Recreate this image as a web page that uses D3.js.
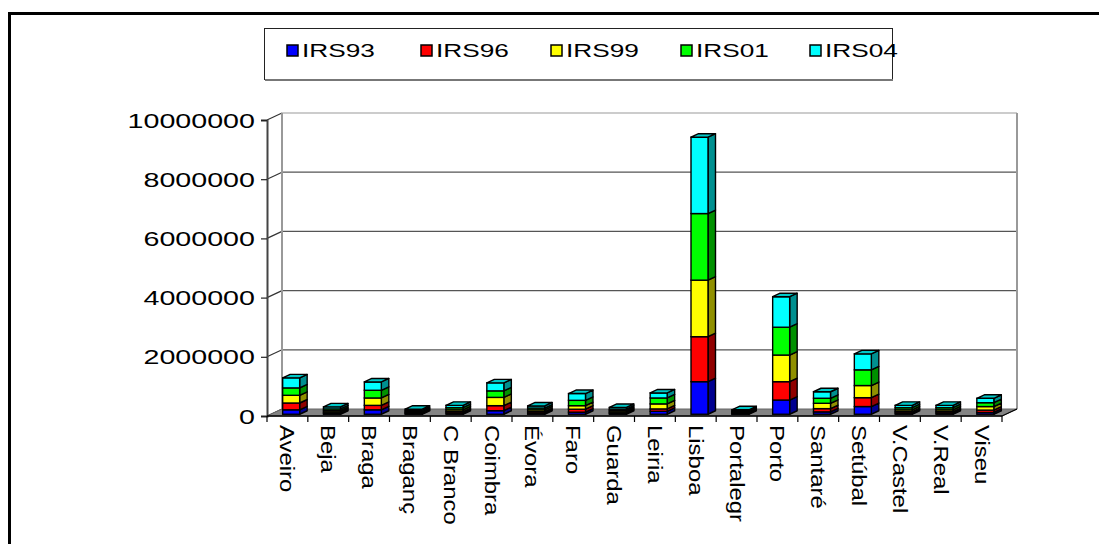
<!DOCTYPE html>
<html>
<head>
<meta charset="utf-8">
<script src="https://cdn.jsdelivr.net/npm/d3@7"></script>
<style>
  html, body { margin: 0; padding: 0; background: #fff; }
  svg { display: block; font-family: "Liberation Sans", Arial, sans-serif; }
</style>
</head>
<body>
<svg id="chart" width="1099" height="544"></svg>
<script>
// District labels (as truncated on the category axis)
const categories = ["Aveiro", "Beja", "Braga", "Braganç", "C Branco", "Coimbra", "Évora", "Faro",
  "Guarda", "Leiria", "Lisboa", "Portalegr", "Porto", "Santaré", "Setúbal", "V.Castel", "V.Real", "Viseu"];

// Series, one value per district
const irs93 = [150000, 30000, 150000, 20000, 40000, 120000, 40000, 70000, 30000, 100000,
  1100000, 20000, 480000, 80000, 260000, 40000, 40000, 60000];
const irs96 = [230000, 40000, 150000, 30000, 50000, 170000, 50000, 100000, 40000, 80000,
  1520000, 30000, 620000, 110000, 300000, 50000, 50000, 80000];
const irs99 = [260000, 50000, 250000, 30000, 60000, 280000, 60000, 120000, 50000, 170000,
  1910000, 30000, 900000, 180000, 410000, 60000, 60000, 120000];
const irs01 = [250000, 60000, 260000, 40000, 70000, 220000, 60000, 180000, 50000, 200000,
  2250000, 30000, 940000, 170000, 530000, 70000, 70000, 130000];
const irs04 = [340000, 70000, 280000, 50000, 80000, 270000, 70000, 230000, 60000, 170000,
  2580000, 40000, 1030000, 220000, 540000, 80000, 80000, 150000];

const seriesNames = ["IRS93", "IRS96", "IRS99", "IRS01", "IRS04"];
const seriesValues = [irs93, irs96, irs99, irs01, irs04];
const yTicks = [0, 2000000, 4000000, 6000000, 8000000, 10000000];

const frontColors = ["#0000ff", "#ff0000", "#ffff00", "#00ff00", "#00ffff"];
const sideColors  = ["#000090", "#900000", "#909000", "#009000", "#009090"];
const topColor = "#00c8c8";

const svg = d3.select("#chart");

// outer frame (left and top edges)
svg.append("line").attr("x1", 9.5).attr("y1", 13.5).attr("x2", 1099).attr("y2", 13.5)
  .attr("stroke", "#000").attr("stroke-width", 3);
svg.append("line").attr("x1", 9.5).attr("y1", 12).attr("x2", 9.5).attr("y2", 544)
  .attr("stroke", "#000").attr("stroke-width", 3);

// plot geometry: front plane plus a depth offset for the 3D walls
const x0 = 267, x1 = 1002;
const depthX = 15, depthY = -7;
const x = d3.scaleBand().domain(categories).range([x0, x1]);
const y = d3.scaleLinear().domain([0, 10000000]).range([416, 120]);

const g = svg.append("g");

// back wall gridlines and left side wall diagonals
yTicks.forEach(t => {
  const yy = y(t);
  if (t > 0) {
    g.append("line").attr("x1", x0 + depthX).attr("x2", x1 + depthX)
      .attr("y1", yy + depthY).attr("y2", yy + depthY)
      .attr("stroke", t === 10000000 ? "#999" : "#555").attr("stroke-width", 1.2);
  }
  g.append("line").attr("x1", x0).attr("y1", yy).attr("x2", x0 + depthX).attr("y2", yy + depthY)
    .attr("stroke", "#333").attr("stroke-width", 1.2);
});
// back wall edges
g.append("line").attr("x1", x0 + depthX).attr("x2", x0 + depthX)
  .attr("y1", y(10000000) + depthY).attr("y2", y(0) + depthY)
  .attr("stroke", "#999").attr("stroke-width", 2);
g.append("line").attr("x1", x1 + depthX).attr("x2", x1 + depthX)
  .attr("y1", y(10000000) + depthY).attr("y2", y(0) + depthY)
  .attr("stroke", "#999").attr("stroke-width", 2);

// floor
g.append("path")
  .attr("d", `M${x0},${y(0)} L${x1},${y(0)} L${x1 + depthX},${y(0) + depthY} L${x0 + depthX},${y(0) + depthY} Z`)
  .attr("fill", "#848484").attr("stroke", "#666").attr("stroke-width", 1);

// value axis on the front plane
const yAxis = d3.axisLeft(y).tickValues(yTicks).tickSize(6).tickFormat(d3.format("d"));
const ya = svg.append("g").attr("transform", `translate(${x0},0)`).call(yAxis);
ya.select(".domain").attr("stroke", "#444").attr("stroke-width", 2);
ya.selectAll(".tick line").attr("stroke", "#222").attr("stroke-width", 1.2);
ya.selectAll(".tick text")
  .attr("x", 0).attr("dy", "0.36em")
  .attr("transform", "translate(-12,0) scale(1.47,1)")
  .attr("font-size", 19.5).attr("font-family", "Liberation Sans, Arial, sans-serif")
  .attr("fill", "#000").attr("text-anchor", "end");

// category axis
const xa = svg.append("g");
xa.append("line").attr("x1", x0).attr("x2", x1).attr("y1", y(0)).attr("y2", y(0))
  .attr("stroke", "#000").attr("stroke-width", 1.5);
xa.append("line").attr("x1", x1).attr("y1", y(0)).attr("x2", x1 + depthX).attr("y2", y(0) + depthY)
  .attr("stroke", "#000").attr("stroke-width", 1.2);
categories.forEach((c, i) => {
  const bx = x(c);
  xa.append("line").attr("x1", bx).attr("x2", bx).attr("y1", y(0)).attr("y2", y(0) + 6)
    .attr("stroke", "#000").attr("stroke-width", 1.2);
  if (i === categories.length - 1) {
    xa.append("line").attr("x1", bx + x.bandwidth()).attr("x2", bx + x.bandwidth())
      .attr("y1", y(0)).attr("y2", y(0) + 6).attr("stroke", "#000").attr("stroke-width", 1.2);
  }
  xa.append("text")
    .attr("transform", `translate(${bx + x.bandwidth() / 2},425) rotate(90) scale(1.14,1)`)
    .attr("dominant-baseline", "central")
    .attr("font-size", 21).attr("fill", "#000")
    .text(c);
});

// stacked 3D bars
const barW = 17;
const fOff = 0.25, bOff = 0.75;   // bars sit in the middle half of the depth
const bars = svg.append("g");
categories.forEach((c, i) => {
  const left = x(c) + x.bandwidth() / 2 - barW / 2 + depthX * fOff;
  const dyF = depthY * fOff;
  const sx = depthX * (bOff - fOff), sy = depthY * (bOff - fOff);
  let acc = 0;
  seriesValues.forEach((vals, s) => {
    const v0 = acc, v1 = acc + vals[i];
    acc = v1;
    const yb = y(v0) + dyF, yt = y(v1) + dyF;
    // side face
    bars.append("path")
      .attr("d", `M${left + barW},${yb} L${left + barW + sx},${yb + sy} L${left + barW + sx},${yt + sy} L${left + barW},${yt} Z`)
      .attr("fill", sideColors[s]).attr("stroke", "#000").attr("stroke-width", 1.4).attr("stroke-linejoin", "round");
    // front face
    bars.append("rect")
      .attr("x", left).attr("y", yt).attr("width", barW).attr("height", yb - yt)
      .attr("fill", frontColors[s]).attr("stroke", "#000").attr("stroke-width", 1.4);
  });
  const yt = y(acc) + dyF;
  bars.append("path")
    .attr("d", `M${left},${yt} L${left + barW},${yt} L${left + barW + sx},${yt + sy} L${left + sx},${yt + sy} Z`)
    .attr("fill", topColor).attr("stroke", "#000").attr("stroke-width", 1.4).attr("stroke-linejoin", "round");
});

// legend
const lg = svg.append("g");
lg.append("rect").attr("x", 264.5).attr("y", 28.5).attr("width", 628).attr("height", 51)
  .attr("fill", "#fff").attr("stroke", "#222").attr("stroke-width", 1);
lg.append("line").attr("x1", 265).attr("x2", 893).attr("y1", 80).attr("y2", 80)
  .attr("stroke", "#777").attr("stroke-width", 2);
const legendX = [287, 421, 551, 681, 810];
seriesNames.forEach((n, s) => {
  lg.append("rect").attr("x", legendX[s]).attr("y", 45).attr("width", 11).attr("height", 11)
    .attr("fill", frontColors[s]).attr("stroke", "#000").attr("stroke-width", 1.5);
  lg.append("text")
    .attr("transform", `translate(${legendX[s] + 15},57) scale(1.38,1)`)
    .attr("font-size", 19).attr("fill", "#000")
    .text(n);
});
</script>
</body>
</html>
